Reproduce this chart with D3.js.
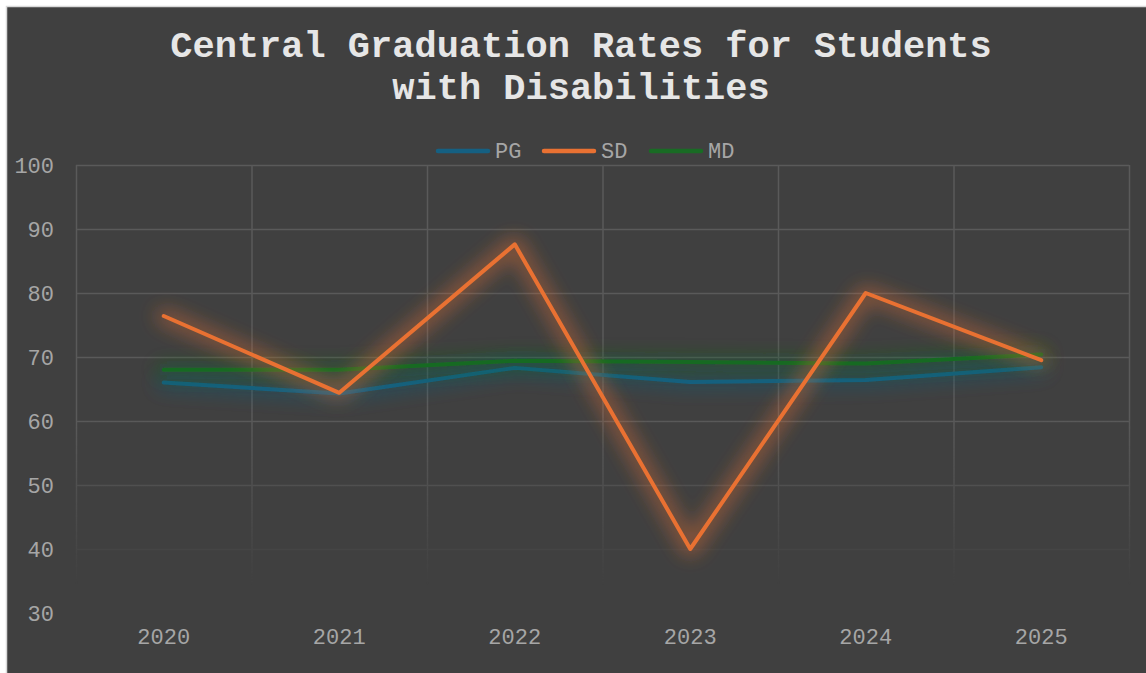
<!DOCTYPE html>
<html>
<head>
<meta charset="utf-8">
<script src="https://cdn.jsdelivr.net/npm/d3@7"></script>
<style>
  html, body { margin: 0; padding: 0; background: #ffffff; }
  svg { display: block; }
</style>
</head>
<body>
<div id="chart"></div>
<script>
const years = ["2020", "2021", "2022", "2023", "2024", "2025"];
const pgValues = [66.0, 64.3, 68.3, 66.1, 66.4, 68.4];
const sdValues = [76.4, 64.4, 87.6, 40.0, 80.0, 69.5];
const mdValues = [68.0, 68.0, 69.4, 69.2, 69.0, 70.4];
const yTicks = [30, 40, 50, 60, 70, 80, 90, 100];
const titleLines = ["Central Graduation Rates for Students", "with Disabilities"];

const seriesList = [
    {name: "PG", values: pgValues, color: "#156082"},
    {name: "SD", values: sdValues, color: "#E97132"},
    {name: "MD", values: mdValues, color: "#196B24"}
];

const width = 1146;
const height = 673;
const plot = {left: 76, right: 1129, top: 165, bottom: 613};
const monoFont = "'Liberation Mono', 'DejaVu Sans Mono', monospace";

const xScale = d3.scaleBand().domain(years).range([plot.left, plot.right]);
const yScale = d3.scaleLinear().domain([30, 100]).range([plot.bottom, plot.top]);

const svg = d3.select("#chart")
    .append("svg")
    .attr("width", width)
    .attr("height", height);

const defs = svg.append("defs");

// fading mask for gridlines
const fade = defs.append("linearGradient")
    .attr("id", "gridFade")
    .attr("gradientUnits", "userSpaceOnUse")
    .attr("x1", 0).attr("y1", plot.top)
    .attr("x2", 0).attr("y2", 585);
fade.append("stop").attr("offset", "0").attr("stop-color", "#fff");
fade.append("stop").attr("offset", "0.6").attr("stop-color", "#fff");
fade.append("stop").attr("offset", "0.8").attr("stop-color", "#888");
fade.append("stop").attr("offset", "1").attr("stop-color", "#000");

defs.append("mask")
    .attr("id", "gridMask")
    .attr("maskUnits", "userSpaceOnUse")
    .attr("x", 0).attr("y", 0).attr("width", width).attr("height", height)
    .append("rect")
    .attr("x", 0).attr("y", 0).attr("width", width).attr("height", height)
    .attr("fill", "url(#gridFade)");

// glow filter per series
seriesList.forEach((s, i) =>
{
    const f = defs.append("filter")
        .attr("id", "glow" + i)
        .attr("filterUnits", "userSpaceOnUse")
        .attr("x", 0).attr("y", 0).attr("width", width).attr("height", height);
    f.append("feMorphology").attr("in", "SourceGraphic").attr("operator", "dilate").attr("radius", 5).attr("result", "fat");
    f.append("feGaussianBlur").attr("in", "fat").attr("stdDeviation", 9).attr("result", "blur");
    f.append("feComponentTransfer").attr("in", "blur").attr("result", "soft")
        .append("feFuncA").attr("type", "linear").attr("slope", 0.4);
    const merge = f.append("feMerge");
    merge.append("feMergeNode").attr("in", "soft");
    merge.append("feMergeNode").attr("in", "SourceGraphic");
});

// chart background with border
svg.append("rect")
    .attr("x", 6.5).attr("y", 6.5)
    .attr("width", width + 10).attr("height", height + 10)
    .attr("fill", "#404040")
    .attr("stroke", "#d9d9d9")
    .attr("stroke-width", 1.5);

// title
svg.append("text")
    .attr("x", 581)
    .attr("y", 57)
    .attr("text-anchor", "middle")
    .attr("font-family", monoFont)
    .attr("font-weight", "bold")
    .attr("font-size", "37px")
    .attr("fill", "#e6e6e6")
    .selectAll("tspan")
    .data(titleLines)
    .enter()
    .append("tspan")
    .attr("x", 581)
    .attr("dy", (d, i) => i === 0 ? 0 : 42)
    .text(d => d);

// gridlines
const grid = svg.append("g").attr("mask", "url(#gridMask)");

grid.selectAll(".hgrid")
    .data(yTicks.filter(t => t > 30))
    .enter()
    .append("line")
    .attr("x1", plot.left).attr("x2", plot.right)
    .attr("y1", d => yScale(d) + 0.5).attr("y2", d => yScale(d) + 0.5)
    .attr("stroke", "#5a5a5a")
    .attr("stroke-width", 1.5);

const vLines = d3.range(years.length + 1).map(i => i === years.length ? plot.right : xScale(years[i]));
grid.selectAll(".vgrid")
    .data(vLines)
    .enter()
    .append("line")
    .attr("x1", d => d + 0.5).attr("x2", d => d + 0.5)
    .attr("y1", plot.top).attr("y2", plot.bottom)
    .attr("stroke", "#5a5a5a")
    .attr("stroke-width", 1.5);

// y axis labels
svg.append("g")
    .attr("transform", `translate(${plot.left - 22},0)`)
    .call(d3.axisLeft(yScale).tickValues(yTicks).tickSize(0).tickPadding(0))
    .call(g => g.select(".domain").remove())
    .call(g => g.selectAll("text")
        .attr("font-family", monoFont)
        .attr("font-size", "22px")
        .attr("fill", "#a6a6a6"));

// x axis labels
svg.append("g")
    .attr("transform", `translate(0,${plot.bottom + 15})`)
    .call(d3.axisBottom(xScale).tickSize(0).tickPadding(0))
    .call(g => g.select(".domain").remove())
    .call(g => g.selectAll("text")
        .attr("font-family", monoFont)
        .attr("font-size", "22px")
        .attr("fill", "#a6a6a6"));

// lines
const lineGraph = d3.line()
    .x((d, i) => xScale(years[i]) + xScale.bandwidth() / 2)
    .y(d => yScale(d));

const drawOrder = [0, 2, 1];
drawOrder.forEach(i =>
{
    const s = seriesList[i];
    svg.append("path")
        .datum(s.values)
        .attr("fill", "none")
        .attr("stroke", s.color)
        .attr("stroke-width", 4)
        .attr("stroke-linejoin", "round")
        .attr("stroke-linecap", "round")
        .attr("filter", `url(#glow${i})`)
        .attr("d", lineGraph);
});

// legend
const legendX = [436, 542, 649];
const legend = svg.append("g");
seriesList.forEach((s, i) =>
{
    legend.append("line")
        .attr("x1", legendX[i] + 2).attr("x2", legendX[i] + 52)
        .attr("y1", 151).attr("y2", 151)
        .attr("stroke", s.color)
        .attr("stroke-width", 4.5)
        .attr("stroke-linecap", "round");
    legend.append("text")
        .attr("x", legendX[i] + 59)
        .attr("y", 158)
        .attr("font-family", monoFont)
        .attr("font-size", "22px")
        .attr("fill", "#a6a6a6")
        .text(s.name);
});
</script>
</body>
</html>
